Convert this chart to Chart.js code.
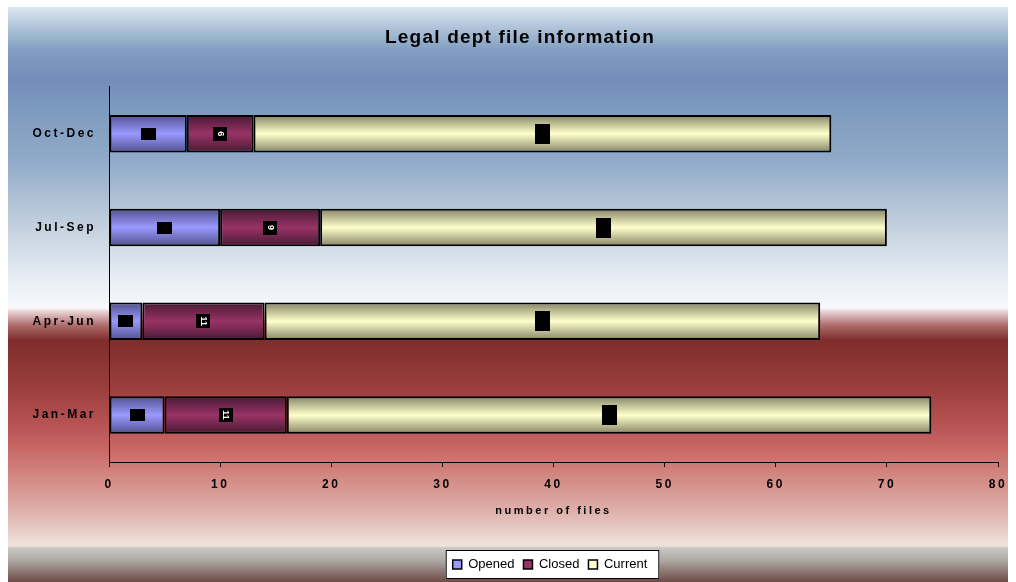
<!DOCTYPE html>
<html>
<head>
<meta charset="utf-8">
<script src="https://cdn.jsdelivr.net/npm/chart.js@4.4.1/dist/chart.umd.min.js"></script>
<style>
  html, body { margin: 0; padding: 0; background: #fff; }
  canvas { display: block; }
</style>
</head>
<body>
<canvas id="fileChart" width="1016" height="582"></canvas>
<script>
// ── DATA ──────────────────────────────────────────────
const quarters = ["Jan-Mar", "Apr-Jun", "Jul-Sep", "Oct-Dec"];
const opened   = [5, 3, 10, 7];
const closed   = [11, 11, 9, 6];
const current  = [58, 50, 51, 52];
const xMin = 0, xMax = 80, xStep = 10;

// ── STYLE ─────────────────────────────────────────────
const FONT = "'Liberation Sans', Arial, sans-serif";
const TICK_SPACING = "2.5px";
const shades = {
  Opened:  ["#50508c", "#9999ff"],
  Closed:  ["#461932", "#993366"],
  Current: ["#828264", "#ffffcc"],
};
const tagSize = { Opened: [15, 12], Closed: [14, 14], Current: [15, 20] };
// title and legend sit a bit right of the chart's centre
const shift = { title: [17, 0, "1.2px"], legend: [47, 3, "0px"] };

// cylinder look: dark edges, light middle
function barShade(name) {
  return ctx => {
    const [edge, mid] = shades[name];
    const y = ctx.chart.scales.y;
    if (!y || ctx.dataIndex === undefined) return mid;
    const cy = y.getPixelForValue(ctx.dataIndex);
    if (!isFinite(cy)) return mid;
    const g = ctx.chart.ctx.createLinearGradient(0, cy - 19, 0, cy + 19);
    g.addColorStop(0, edge);
    g.addColorStop(0.5, mid);
    g.addColorStop(1, edge);
    return g;
  };
}

// ── BACKGROUND (blue sky over red band) ───────────────
const backdrop = {
  id: "backdrop",
  beforeDraw(chart) {
    const c = chart.ctx, top = 7, h = 575;
    const stops = [
      [7, "#dce8f0"], [25, "#b4c8dc"], [50, "#829ec0"], [80, "#738cb9"],
      [110, "#7d9bbe"], [160, "#91aac8"], [220, "#becddc"], [280, "#e8eef4"],
      [308, "#f8f9fb"], [311, "#ebd7da"], [325, "#af6e6e"], [340, "#802d2d"],
      [380, "#963a3a"], [420, "#b45050"], [450, "#c86966"], [480, "#d48c87"],
      [510, "#deafaa"], [540, "#ecdcd4"], [546, "#eee2da"], [548, "#c8c8c4"],
      [560, "#afaaa5"], [582, "#6e4b46"],
    ];
    const g = c.createLinearGradient(0, top, 0, top + h);
    stops.forEach(([y, col]) => g.addColorStop((y - top) / h, col));
    c.save();
    c.fillStyle = g;
    c.fillRect(8, top, 1000, h);
    // white legend panel
    const lg = chart.legend;
    if (lg && lg.legendHitBoxes && lg.legendHitBoxes.length) {
      const hb = lg.legendHitBoxes;
      const dx = shift.legend[0];
      const l = Math.min(...hb.map(b => b.left)) - 7 + dx;
      const r = Math.max(...hb.map(b => b.left + b.width)) + 12 + dx;
      c.fillStyle = "#fff";
      c.fillRect(l, 550, r - l, 29);
      c.strokeStyle = "#000";
      c.lineWidth = 1;
      c.strokeRect(l + 0.5, 550.5, r - l - 1, 28);
    }
    c.restore();
    c.letterSpacing = TICK_SPACING;
  },
  afterDraw(chart) {
    chart.ctx.letterSpacing = "0px";
  },
};

// title and legend keep their own spacing and offset, axis text is spaced out
const spacing = {
  id: "spacing",
  afterLayout(chart) {
    [["title", chart.titleBlock], ["legend", chart.legend]].forEach(([key, box]) => {
      if (!box || box._plain) return;
      const draw = box.draw.bind(box);
      const [dx, dy, ls] = shift[key];
      box.draw = area => {
        const c = chart.ctx;
        c.save();
        c.translate(dx, dy);
        c.letterSpacing = ls;
        draw(area);
        c.restore();
        c.letterSpacing = TICK_SPACING;
      };
      box._plain = true;
    });
  },
};

// ── DATA TAGS (black boxes in each segment) ───────────
const tags = {
  id: "tags",
  afterDatasetsDraw(chart) {
    const c = chart.ctx;
    c.save();
    c.letterSpacing = "0px";
    chart.data.datasets.forEach((ds, di) => {
      const [w, h] = tagSize[ds.label];
      chart.getDatasetMeta(di).data.forEach((bar, i) => {
        const cx = (bar.x + bar.base) / 2;
        c.fillStyle = "#000";
        c.fillRect(Math.round(cx - w / 2), Math.round(bar.y - h / 2), w, h);
        if (ds.label === "Closed") {
          c.save();
          c.translate(cx, bar.y);
          c.rotate(Math.PI / 2);
          c.fillStyle = "#fff";
          c.font = "bold 9px " + FONT;
          c.textAlign = "center";
          c.textBaseline = "middle";
          c.fillText(String(ds.data[i]), 0, 0);
          c.restore();
        }
      });
    });
    c.restore();
  },
};

// ── CHART ─────────────────────────────────────────────
function series(label, values) {
  return {
    label,
    data: values,
    backgroundColor: barShade(label),
    borderColor: "#000",
    borderWidth: 2,
    borderSkipped: false,
    barPercentage: 0.4,
    categoryPercentage: 1.0,
  };
}

new Chart(document.getElementById("fileChart").getContext("2d"), {
  type: "bar",
  data: {
    labels: quarters,
    datasets: [
      series("Opened", opened),
      series("Closed", closed),
      series("Current", current),
    ],
  },
  options: {
    indexAxis: "y",
    responsive: false,
    animation: false,
    layout: { padding: { left: 8, right: 18, top: 0, bottom: 4 } },
    plugins: {
      title: {
        display: true,
        text: "Legal dept file information",
        color: "#000",
        font: { family: FONT, size: 19, weight: "bold" },
        padding: { top: 26, bottom: 38 },
      },
      legend: {
        position: "bottom",
        labels: {
          color: "#000",
          font: { family: FONT, size: 13 },
          boxWidth: 9,
          boxHeight: 9,
          padding: 9,
          generateLabels: chart => chart.data.datasets.map((ds, i) => ({
            text: ds.label,
            fillStyle: shades[ds.label][1],
            strokeStyle: "#000",
            lineWidth: 1.5,
            datasetIndex: i,
            hidden: false,
          })),
        },
      },
      tooltip: { enabled: false },
    },
    scales: {
      x: {
        stacked: true,
        min: xMin,
        max: xMax,
        ticks: { stepSize: xStep, color: "#000", padding: 10, font: { family: FONT, size: 12, weight: "bold" } },
        grid: { drawOnChartArea: false, drawTicks: true, tickLength: 5, color: "#000" },
        border: { display: true, color: "#000", width: 1 },
        title: {
          display: true,
          text: "number of files",
          color: "#000",
          font: { family: FONT, size: 11, weight: "bold" },
          padding: { top: 0, bottom: 28 },
        },
        afterFit: s => { s.height = 84; },
      },
      y: {
        stacked: true,
        reverse: true,
        ticks: { color: "#000", padding: 5, font: { family: FONT, size: 12, weight: "bold" } },
        grid: { display: false },
        border: { display: true, color: "#000", width: 1 },
        afterFit: s => { s.width = 101; },
      },
    },
  },
  plugins: [backdrop, spacing, tags],
});
</script>
</body>
</html>
